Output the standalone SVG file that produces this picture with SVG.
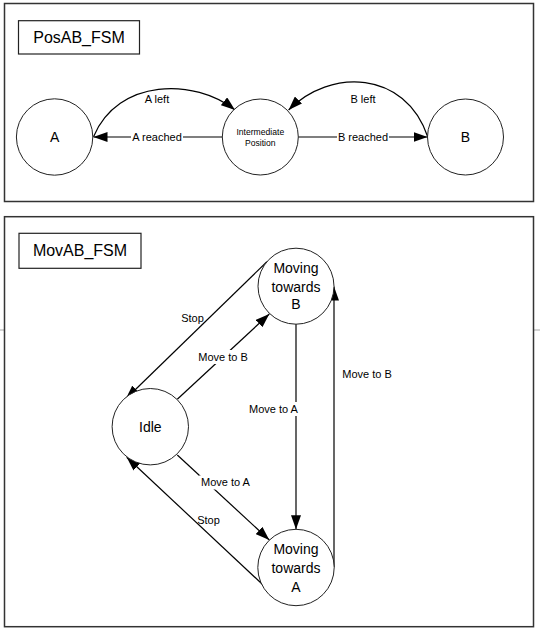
<svg xmlns="http://www.w3.org/2000/svg" width="540" height="633" viewBox="0 0 540 633">
<defs>
<marker id="arr" markerUnits="userSpaceOnUse" markerWidth="14" markerHeight="10" refX="14" refY="5" orient="auto">
<path d="M0,0 L14,5 L0,10 z" fill="#000"/>
</marker>
<style>
.panel{fill:#fff;stroke:#333;stroke-width:1.5}
.box{fill:#fff;stroke:#222;stroke-width:1.2}
.st{fill:#fff;stroke:#222;stroke-width:1}
.e{fill:none;stroke:#000;stroke-width:1.2;marker-end:url(#arr)}
.t{font-family:"Liberation Sans",Arial,sans-serif;fill:#000;text-anchor:middle;dominant-baseline:central}
.title{font-size:16px}
.sn{font-size:14px}
.lb{font-size:11px}
.bg{fill:#fff}
</style>
</defs>
<rect width="540" height="633" fill="#fff"/>
<line x1="0" y1="330" x2="4" y2="330" stroke="#ccc" stroke-width="1.7"/>
<line x1="534" y1="330" x2="540" y2="330" stroke="#ccc" stroke-width="1.7"/>

<g id="panel-pos">
<rect class="panel" x="4.5" y="3.5" width="529" height="198"/>
<rect class="box" x="18.5" y="20.7" width="121" height="33.3"/>
<text class="t title" x="79" y="37.5">PosAB_FSM</text>
</g>
<g id="panel-mov">
<rect class="panel" x="4.5" y="216.7" width="529" height="410"/>
<rect class="box" x="19" y="233.3" width="122" height="35"/>
<text class="t title" x="80" y="250.7">MovAB_FSM</text>
</g>

<g id="connectors">
<path class="e" d="M222.3,137 L93.5,137"/>
<path class="e" d="M298.3,137 L427.5,137"/>
<path class="e" d="M93.5,136.7 C118,78 195,78 235,110"/>
<path class="e" d="M427.7,136.7 C405,70 330,68 288.6,110"/>
<path class="e" d="M266.9,261.7 L125.7,399"/>
<path class="e" d="M177.3,399.3 L269.3,314"/>
<path class="e" d="M296,324 L296,529.3"/>
<path class="e" d="M334,567.5 L334,286.5"/>
<path class="e" d="M177.3,455 L269.3,540"/>
<path class="e" d="M270.3,591.7 L126.7,457.3"/>
<rect class="bg" x="131" y="130" width="52" height="14"/>
<text class="t lb" x="157" y="137">A reached</text>
<rect class="bg" x="337" y="130" width="52" height="14"/>
<text class="t lb" x="363" y="137">B reached</text>
<text class="t lb" x="157" y="99.3">A left</text>
<text class="t lb" x="363" y="99.3">B left</text>
<text class="t lb" x="192.5" y="318.3">Stop</text>
<rect class="bg" x="197" y="350" width="53" height="14"/>
<text class="t lb" x="223.1" y="356.7">Move to B</text>
<rect class="bg" x="247" y="402" width="53" height="14"/>
<text class="t lb" x="273.5" y="409">Move to A</text>
<text class="t lb" x="367" y="374.3">Move to B</text>
<rect class="bg" x="199" y="475.5" width="53" height="14"/>
<text class="t lb" x="225.5" y="482.3">Move to A</text>
<text class="t lb" x="208.5" y="520.3">Stop</text>
</g>

<g id="node-A">
<circle class="st" cx="54.6" cy="137" r="38.2"/>
<text class="t sn" x="54.6" y="137">A</text>
</g>
<g id="node-intermediate">
<circle class="st" cx="260.3" cy="137" r="38"/>
<text class="t" style="font-size:8.6px" x="260.3" y="132">Intermediate</text>
<text class="t" style="font-size:8.6px" x="260.3" y="142.7">Position</text>
</g>
<g id="node-B">
<circle class="st" cx="465.5" cy="137" r="38"/>
<text class="t sn" x="465.5" y="137">B</text>
</g>
<g id="node-moving-b">
<circle class="st" cx="296" cy="286.2" r="38"/>
<text class="t sn" x="296" y="267.7">Moving</text>
<text class="t sn" x="296" y="286.7">towards</text>
<text class="t sn" x="296" y="304.3">B</text>
</g>
<g id="node-idle">
<circle class="st" cx="150.3" cy="426.7" r="38.2"/>
<text class="t sn" x="150.3" y="426.7">Idle</text>
</g>
<g id="node-moving-a">
<circle class="st" cx="296" cy="567.5" r="38.2"/>
<text class="t sn" x="296" y="549">Moving</text>
<text class="t sn" x="296" y="568.3">towards</text>
<text class="t sn" x="296" y="586.7">A</text>
</g>
</svg>
